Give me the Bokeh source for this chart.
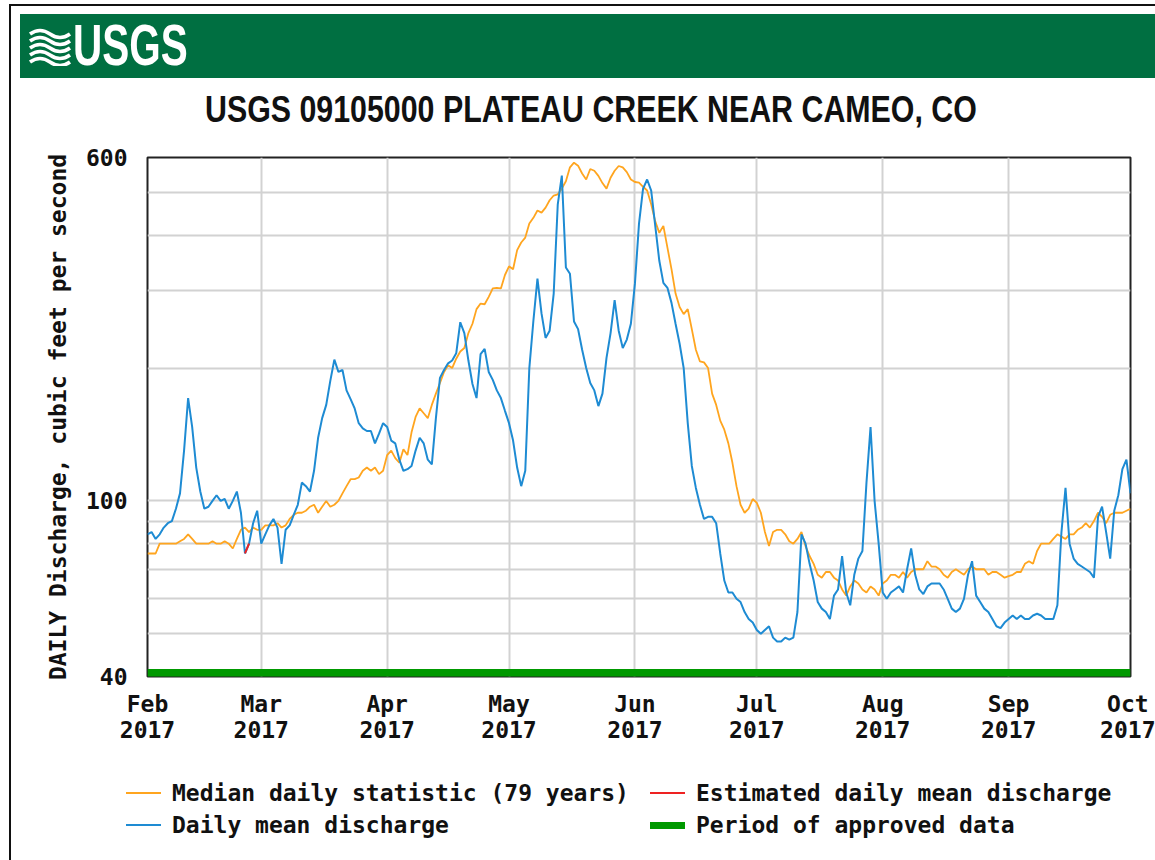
import pandas as pd
from bokeh.plotting import figure
from bokeh.models import Range1d, FixedTicker, ColumnDataSource, Div
from bokeh.layouts import column, row
from bokeh.embed import file_html
from bokeh.resources import INLINE

# ---------------- data ----------------
start_date = "2017-02-01"          # day 0
end_date = "2017-10-01"            # day 242

# Median daily statistic (79 years), one value per day from Feb 1
median_cfs = [
    76, 76, 76, 80, 80, 80, 80, 80, 81, 82, 84, 82, 80, 80, 80, 80, 81, 80, 80, 81,
    80, 78, 82, 86, 87, 85, 87, 86, 86, 88, 88, 88, 89, 87, 88, 91, 93, 94, 94, 95,
    97, 98, 94, 97, 100, 97, 98, 100, 104, 108, 112, 112, 113, 117, 119, 117, 119, 115, 117, 127,
    130, 125, 122, 131, 127, 143, 155, 162, 158, 154, 165, 175, 185, 196, 203, 200, 210, 218, 222, 240,
    252, 272, 280, 279, 290, 303, 304, 303, 325, 340, 335, 370, 385, 395, 425, 438, 455, 450, 462, 480,
    492, 495, 510, 530, 570, 584, 575, 552, 535, 565, 560, 545, 525, 510, 540, 560, 574, 570, 556, 535,
    528, 526, 515, 505, 470, 430, 405, 420, 375, 335, 295, 275, 265, 272, 245, 220, 207, 206, 200, 175,
    165, 152, 145, 135, 122, 108, 98, 94, 96, 101, 99, 94, 85, 79, 85, 86, 86, 84, 81, 80,
    82, 85, 79, 75, 72, 68, 67, 69, 69, 67, 66, 63, 61, 64, 66, 65, 63, 62, 64, 63,
    61, 65, 66, 68, 68, 67, 69, 67, 69, 70, 70, 70, 73, 71, 71, 70, 68, 67, 69, 70,
    69, 68, 70, 71, 70, 70, 70, 68, 69, 69, 68, 67, 67.5, 68, 69, 69, 72, 73, 72, 77,
    80, 80, 80, 82, 84, 83, 82, 84, 84, 86, 87, 89, 87, 90, 94, 92, 89, 93, 94, 94,
    94, 95, 96,
]

# Daily mean discharge, one value per day from Feb 1
daily_cfs = [
    84, 85, 82, 84, 87, 89, 90, 96, 104, 130, 171, 147, 119, 105, 96, 97, 100, 103, 100, 101,
    96, 100, 105, 94, 76, 80, 89, 95, 80, 84, 88, 91, 87, 72, 86, 88, 93, 98, 110, 108,
    105, 117, 139, 154, 165, 187, 209, 196, 198, 178, 170, 162, 150, 146, 144, 144, 135, 142, 150, 147,
    137, 135, 124, 117, 118, 120, 130, 139, 135, 124, 121, 154, 190, 198, 205, 208, 216, 254, 240, 208,
    184, 171, 215, 221, 196, 188, 178, 171, 160, 150, 137, 119, 108, 117, 200, 256, 319, 266, 234, 243,
    295, 470, 546, 338, 327, 255, 245, 220, 200, 185, 178, 164, 175, 211, 240, 285, 243, 222, 232, 252,
    311, 425, 510, 535, 505, 420, 350, 312, 304, 281, 252, 227, 200, 150, 120, 107, 98, 91, 92, 92,
    89, 76, 66, 62, 62, 60, 59, 56, 54, 53, 51, 50, 51, 52, 49, 48, 48, 49, 48.5, 49,
    56, 84, 80, 72, 66, 59, 57, 56, 54, 61, 63, 75, 62, 58, 68, 74, 77, 110, 147, 100,
    80, 62, 60, 62, 63, 64, 62, 70, 78, 68, 63, 61.5, 64, 65, 65, 65, 63, 60, 57, 56,
    57, 60, 68, 73, 61, 59, 57, 56, 54, 52, 51.5, 53, 54, 55, 54, 55, 54, 54, 55, 55.5,
    55, 54, 54, 54, 58, 85, 107, 80, 74, 72, 71, 70, 69, 67, 92, 97, 85, 74, 95, 103,
    118, 124, 104,
]

# Estimated daily mean discharge (days after Feb 1)
est_days = [24, 25]
est_cfs = [76, 80]

# Period of approved data
approved_start = "2017-02-01"
approved_end = "2017-10-01"

month_starts = ["2017-02-01", "2017-03-01", "2017-04-01", "2017-05-01", "2017-06-01",
                "2017-07-01", "2017-08-01", "2017-09-01", "2017-10-01"]
month_labels = ["Feb\n2017", "Mar\n2017", "Apr\n2017", "May\n2017", "Jun\n2017",
                "Jul\n2017", "Aug\n2017", "Sep\n2017", "Oct\n2017"]

y_ticks = [40, 50, 60, 70, 80, 90, 100, 200, 300, 400, 500, 600]
y_tick_labels = {40: "40", 100: "100", 600: "600"}

title_text = "USGS 09105000 PLATEAU CREEK NEAR CAMEO, CO"
y_label = "DAILY Discharge, cubic feet per second"
logo_text = "USGS"

legend_labels = ["Median daily statistic (79 years)", "Daily mean discharge",
                 "Estimated daily mean discharge", "Period of approved data"]

# ---------------- style ----------------
MONO = "DejaVu Sans Mono"
FS = "23px"
GREEN_HDR = "#006F41"
C_MED = "#FFA51F"
C_DAY = "#1E8BD3"
C_EST = "#EE2222"
C_APP = "#009900"

# ---------------- build ----------------
t0 = pd.Timestamp(start_date)
days_median = pd.date_range(t0, periods=len(median_cfs), freq="D")
days_daily = pd.date_range(t0, periods=len(daily_cfs), freq="D")
days_est = [t0 + pd.Timedelta(days=d) for d in est_days]


def ms(s):
    return int(pd.Timestamp(s).value // 10**6)


tick_ms = [ms(s) for s in month_starts]

# left border strip
left_div = Div(text='<div style="position:relative;width:11px;height:860px;">'
                    '<div style="position:absolute;left:9px;top:4px;width:2px;height:856px;'
                    'background:#111;"></div></div>', width=11, height=860, margin=0)

# header: banner + title
waves = "".join(
    f'<path d="M2,{6 + i * 7} q10,-7 20,0 t20,0" fill="none" stroke="white" stroke-width="3.6"/>'
    for i in range(5)
)
header_html = f"""
<div style="position:relative;width:1144px;height:140px;background:white;">
  <div style="position:absolute;left:0px;top:4px;width:1144px;height:2px;background:#111;"></div>
  <div style="position:absolute;left:9px;top:14px;width:1135px;height:64px;background:{GREEN_HDR};">
    <svg style="position:absolute;left:8px;top:14px;" width="46" height="38" viewBox="0 0 46 38">{waves}</svg>
    <div style="position:absolute;left:53px;top:3px;font-family:'Liberation Sans';font-weight:bold;
                font-size:57px;line-height:57px;color:white;transform:scaleX(0.71);
                transform-origin:left top;white-space:nowrap;">{logo_text}</div>
  </div>
  <div style="position:absolute;left:194px;top:92px;font-family:'Liberation Sans';font-weight:bold;
              font-size:36px;line-height:36px;color:#111;transform:scaleX(0.843);
              transform-origin:left top;white-space:nowrap;">{title_text}</div>
</div>
"""
hdr = Div(text=header_html, width=1144, height=140, margin=0)

# main chart
p = figure(frame_width=983, frame_height=519, min_border_left=136, min_border_right=25,
           min_border_top=17, min_border_bottom=84, toolbar_location=None,
           output_backend="svg", x_axis_type="datetime", y_axis_type="log",
           x_range=Range1d(ms(start_date), ms(end_date)), y_range=Range1d(40, 600))
p.border_fill_color = "white"
p.background_fill_color = "white"
p.outline_line_color = "#222222"
p.outline_line_width = 2

xt = FixedTicker(ticks=tick_ms)
yt = FixedTicker(ticks=y_ticks)
p.xaxis.ticker = xt
p.yaxis.ticker = yt
p.xgrid.ticker = xt
p.ygrid.ticker = yt
p.xaxis.major_label_overrides = {k: lab for k, lab in zip(tick_ms, month_labels)}
p.yaxis.major_label_overrides = {t: y_tick_labels.get(t, "") for t in y_ticks}

for g in (p.xgrid, p.ygrid):
    g.grid_line_color = "#d2d2d2"
    g.grid_line_width = 2

for ax in (p.xaxis, p.yaxis):
    ax.axis_line_color = None
    ax.major_tick_line_color = None
    ax.minor_tick_line_color = None
    ax.major_label_text_font = MONO
    ax.major_label_text_font_size = FS
    ax.major_label_text_font_style = "bold"
    ax.major_label_text_color = "#111111"

p.xaxis.major_label_standoff = 8
p.xaxis.major_label_text_line_height = 1.0
p.yaxis.major_label_standoff = 14
p.yaxis.axis_label = y_label
p.yaxis.axis_label_text_font = MONO
p.yaxis.axis_label_text_font_size = FS
p.yaxis.axis_label_text_font_style = "bold"
p.yaxis.axis_label_text_color = "#111111"
p.yaxis.axis_label_standoff = 12

src_med = ColumnDataSource(dict(x=days_median, y=median_cfs))
src_day = ColumnDataSource(dict(x=days_daily, y=daily_cfs))
src_est = ColumnDataSource(dict(x=days_est, y=est_cfs))
src_app = ColumnDataSource(dict(x=[pd.Timestamp(approved_start), pd.Timestamp(approved_end)],
                                y=[40 * 1.018, 40 * 1.018]))

p.line("x", "y", source=src_app, line_color=C_APP, line_width=8)
p.line("x", "y", source=src_med, line_color=C_MED, line_width=1.8)
p.line("x", "y", source=src_day, line_color=C_DAY, line_width=2)
p.line("x", "y", source=src_est, line_color=C_EST, line_width=2)

# legend (below the chart)
items = [
    (legend_labels[0], C_MED, 2, 115, 33),
    (legend_labels[1], C_DAY, 2, 115, 65),
    (legend_labels[2], C_EST, 2, 639, 33),
    (legend_labels[3], C_APP, 7, 639, 65),
]
parts = []
for lab, col, lw, x0, yc in items:
    parts.append(f'<div style="position:absolute;left:{x0}px;top:{yc - lw / 2}px;width:35px;'
                 f'height:{lw}px;background:{col};"></div>')
    parts.append(f'<div style="position:absolute;left:{x0 + 46}px;top:{yc - 14}px;height:28px;'
                 f'line-height:28px;font-family:\'{MONO}\';font-weight:bold;font-size:{FS};'
                 f'color:#111;white-space:nowrap;">{lab}</div>')
legend_html = ('<div style="position:relative;width:1144px;height:100px;background:white;">'
               + "".join(parts) + "</div>")
leg = Div(text=legend_html, width=1144, height=100, margin=0)

layout = row(left_div, column(hdr, p, leg, spacing=0), spacing=0)
open("out.html", "w").write(file_html(layout, INLINE))
